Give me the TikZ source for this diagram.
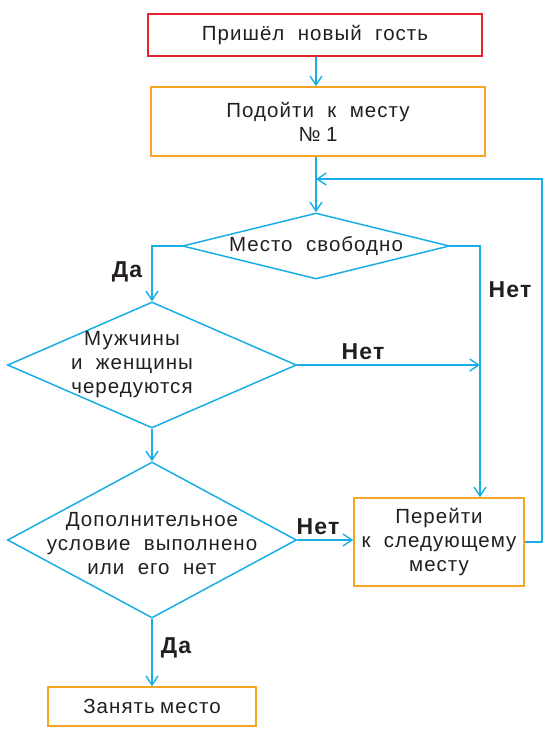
\documentclass[tikz,border=0pt]{standalone}
\usepackage{fontspec}
\setmainfont{Liberation Sans}[WordSpace=2,LetterSpace=5]
\usetikzlibrary{shapes.geometric,arrows.meta}
\definecolor{fred}{HTML}{E8212E}
\definecolor{forange}{HTML}{F6A623}
\definecolor{fblue}{HTML}{19AEE6}
\definecolor{ftext}{HTML}{231F20}
\newcommand{\fsmain}{\fontsize{20.5}{24}\selectfont}
\newcommand{\fslab}{\fontsize{23}{24}\selectfont\bfseries}
\newcommand{\narrowsp}{\hspace{5.5pt}}
\begin{document}
\begin{tikzpicture}[x=1pt,y=-1pt,
  box/.style={draw=forange, line width=1.6pt, inner sep=0pt, text=ftext, font=\fsmain, align=center},
  startbox/.style={box, draw=fred},
  dia/.style={diamond, draw=fblue, line width=1.5pt, inner sep=0pt, aspect=2},
  txt/.style={text=ftext, font=\fsmain, align=center, inner sep=0pt},
  lab/.style={text=ftext, font=\fslab, inner sep=0pt},
  flow/.style={draw=fblue, line width=1.4pt, -{Straight Barb[length=9pt,width=12pt,line width=1.4pt]}}
]
\useasboundingbox (0,0) rectangle (554,734);
\node[startbox, minimum width=334, minimum height=42] (start) at (315,35) {Пришёл новый гость};
\node[box, minimum width=334, minimum height=69] (approach) at (318,121.5) {Подойти к месту\\№\narrowsp{}1};
\node[dia, minimum width=267, minimum height=66] (d1) at (316,246) {};
\node[txt] (t1) at (316,246) {Место свободно};
\node[dia, minimum width=289, minimum height=126] (d2) at (152,365) {};
\node[txt] (t2) at (132,365) {Мужчины\\и женщины\\чередуются};
\node[dia, minimum width=289, minimum height=156] (d3) at (152,540) {};
\node[txt] (t3) at (152,544) {Дополнительное\\условие выполнено\\или его нет};
\node[box, minimum width=170, minimum height=88] (next) at (439,542) {Перейти\\к следующему\\месту};
\node[box, minimum width=208, minimum height=39] (take) at (152,706.5) {Занять\narrowsp{}место};
\coordinate (colx) at (480,246);
\coordinate (loopr) at (542,179);
\coordinate (loopin) at (316,179);
\draw[flow] (start.south -| d1.north) -- (approach.north -| d1.north);
\draw[flow] (approach.south -| d1.north) -- (d1.north);
\draw[flow] (d1.west) -| (d2.north);
\draw[flow] (d1.east) -- (colx) -- (colx |- next.north);
\draw[flow] (d2.east) -- (d2.east -| colx);
\draw[flow] (d2.south) -- (d3.north);
\draw[flow] (d3.east) -- (d3.east -| next.west);
\draw[flow] (d3.south) -- (take.north);
\draw[flow] (next.east) -| (loopr) -- (loopin);
\node[lab] (da1) at (127,272) {Да};
\node[lab] (net1) at (510,290) {Нет};
\node[lab] (net2) at (363,352) {Нет};
\node[lab] (net3) at (318,527) {Нет};
\node[lab] (da2) at (176,648) {Да};
\end{tikzpicture}
\end{document}
